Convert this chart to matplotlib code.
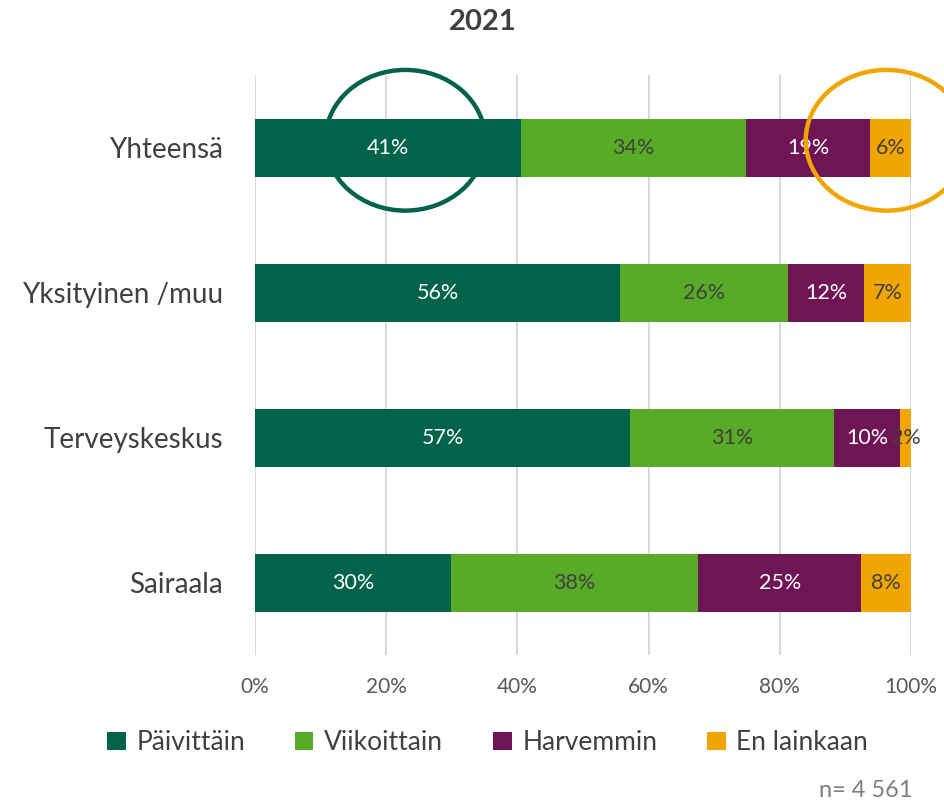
import matplotlib.pyplot as plt
from matplotlib.patches import Ellipse
import numpy as np

plt.rcParams['font.family'] = ['Lato', 'DejaVu Sans']

categories = ["Yhteensä", "Yksityinen /muu", "Terveyskeskus", "Sairaala"]
series = ["Päivittäin", "Viikoittain", "Harvemmin", "En lainkaan"]
paivittain = [40.6, 55.6, 57.2, 29.8]
viikoittain = [34.2, 25.7, 31.1, 37.8]
harvemmin = [19.0, 11.6, 10.0, 24.8]
en_lainkaan = [6.2, 7.1, 1.7, 7.6]
ticks = [0, 20, 40, 60, 80, 100]

colors = ["#00634A", "#57AB27", "#6F1455", "#F0A500"]
text_colors = ["white", "#404040", "white", "#404040"]

fig = plt.figure(figsize=(9.45, 8.02), dpi=100)
ax = fig.add_axes([0.27, 0.183, 0.694, 0.7235])

y = np.arange(len(categories))
left = np.zeros(len(categories))
for name, vals, c, tc in zip(series, [paivittain, viikoittain, harvemmin, en_lainkaan], colors, text_colors):
    bars = ax.barh(y, vals, left=left, height=0.4, color=c, label=name, zorder=2)
    ax.bar_label(bars, labels=[f"{v:.0f}%" for v in vals], label_type="center",
                 color=tc, fontsize=15.5, zorder=3)
    left += np.array(vals)

ax.set_xlim(0, 100)
ax.set_ylim(3.5, -0.5)
ax.set_yticks(y)
ax.set_yticklabels(categories, fontsize=20, color="#404040")
ax.set_xticks(ticks)
ax.set_xticklabels([f"{t}%" for t in ticks], fontsize=15, color="#595959")
ax.tick_params(length=0)
ax.tick_params(axis="y", pad=23)
ax.tick_params(axis="x", pad=16)
ax.xaxis.grid(True, color="#D9D9D9", linewidth=1.5, zorder=0)
ax.set_axisbelow(True)
for s in ax.spines.values():
    s.set_visible(False)

# highlight circles
ax.add_patch(Ellipse((22.9, -0.05), 24.4, 0.97, fill=False, edgecolor="#00634A",
                     linewidth=3.2, zorder=4, clip_on=False))
ax.add_patch(Ellipse((96.3, -0.05), 24.7, 0.97, fill=False, edgecolor="#F0A500",
                     linewidth=3.2, zorder=4, clip_on=False))

fig.text(0.511, 0.972, "2021", ha="center", va="center", fontsize=21,
         fontweight="bold", color="#404040")

fig.legend(loc="center", bbox_to_anchor=(0.516, 0.074), ncol=4, frameon=False,
           fontsize=19, labelcolor="#404040", handlelength=0.7, handleheight=0.7,
           handletextpad=0.4, columnspacing=1.9)

fig.text(0.966, 0.014, "n= 4 561", ha="right", va="center", fontsize=17, color="#7F7F7F")

fig.savefig("out.png", dpi=100)
